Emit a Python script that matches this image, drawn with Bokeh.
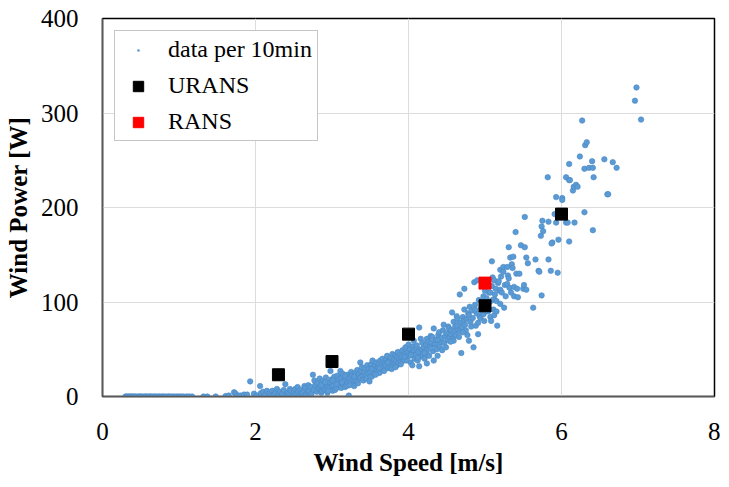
from bokeh.plotting import figure
from bokeh.models import Range1d, FixedTicker, Legend, LegendItem, ColumnDataSource
from bokeh.embed import file_html
from bokeh.resources import INLINE

# ---- measured data (wind speed [m/s], wind power [W]) ----
calm_speed = [0.30, 0.32, 0.34, 0.36, 0.38, 0.40, 0.42, 0.44, 0.47, 0.49,
              0.51, 0.54, 0.56, 0.58, 0.61, 0.63, 0.65, 0.68, 0.70, 0.73,
              0.75, 0.78, 0.80, 0.83, 0.86, 0.88, 0.91, 0.94, 0.97, 1.00,
              1.03, 1.06, 1.10, 1.13, 1.17, 1.32, 1.37, 1.48]
calm_power = [0, 0, 0, 0, 0, 0, 0, 0, 0, 0,
              0, 0, 0, 0, 0, 0, 0, 0, 0, 0,
              0, 0, 0, 0, 0, 0, 0, 0, 0, 0,
              0, 0, 0, 0, 0, 0, 0, 0]

low_speed = [1.61, 1.65, 1.72, 1.74, 1.76, 1.80, 1.85, 1.89, 1.93, 1.98,
             2.02, 2.06, 2.07, 2.10, 2.13, 2.15, 2.18, 2.20, 2.22, 2.24,
             2.26, 2.28, 2.30, 2.32, 2.34, 2.35, 2.37, 2.39, 2.40, 2.42,
             2.44, 2.45, 2.46, 2.48, 2.50, 2.51, 2.52, 2.54, 2.55, 2.56,
             2.57, 2.59, 2.60, 2.61, 2.63, 2.64, 2.65, 2.66, 2.68, 2.69,
             2.70, 2.72, 2.73, 2.75, 2.76, 2.77, 2.78]
low_power = [0.5, 1, 4.5, 3, 1, 1, 2, 2, 16, 3,
             1, 11, 3.5, 5, 2, 6, 3, 1, 6, 2,
             4, 8, 2, 5, 1, 3, 7, 13, 1, 4,
             3, 8, 6, 2, 4, 1, 8, 3, 10, 5,
             1, 7, 3, 4, 6, 11, 9, 2, 5, 12,
             6, 10, 3, 23, 7, 17, 12]

mid_speed = [2.80, 2.81, 2.82, 2.83, 2.84, 2.85, 2.86, 2.87, 2.88, 2.89,
             2.90, 2.91, 2.92, 2.93, 2.94, 2.95, 2.96, 2.97, 2.98, 2.99,
             3.00, 3.01, 3.02, 3.03, 3.04, 3.05, 3.06, 3.07, 3.08, 3.09,
             3.10, 3.11, 3.12, 3.13, 3.14, 3.15, 3.16, 3.17, 3.18, 3.19,
             3.20, 3.21, 3.22, 3.23, 3.24, 3.25, 3.26, 3.27, 3.28, 3.29,
             3.30, 3.31, 3.32, 3.33, 3.34, 3.35, 3.36, 3.37, 3.37, 3.38,
             3.39, 3.40, 3.41, 3.42, 3.43, 3.44, 3.45, 3.46, 3.47, 3.48,
             3.49, 2.86, 2.91, 2.95, 3.01, 3.06, 3.13, 3.17, 3.23, 3.29]
mid_power = [5, 14, 8, 9, 19, 11, 4, 6, 16, 8,
             13, 7, 20, 10, 4, 12, 9, 15, 27, 18,
             11, 6, 12, 21, 7, 16, 9, 22, 14, 12,
             19, 27, 9, 20, 24, 13, 17, 10, 21, 11,
             23, 15, 1, 19, 15, 26, 22, 13, 18, 11,
             25, 17, 21, 28, 14, 24, 19, 20, 36, 27,
             31, 22, 17, 26, 30, 22, 19, 33, 25, 29,
             16, 12, 15, 6, 17, 13, 15, 22, 12, 21]

s35_speed = [3.50, 3.51, 3.52, 3.53, 3.54, 3.55, 3.56, 3.57, 3.58, 3.59,
             3.60, 3.61, 3.62, 3.63, 3.64, 3.65, 3.66, 3.67, 3.68, 3.69,
             3.70, 3.71, 3.72, 3.73, 3.74, 3.75, 3.76, 3.77, 3.78, 3.79,
             3.80, 3.81, 3.82, 3.83, 3.84, 3.85, 3.85, 3.86, 3.87, 3.88,
             3.89, 3.90, 3.91, 3.92, 3.93, 3.94, 3.95, 3.96, 3.97, 3.98,
             3.99, 3.52, 3.57, 3.62, 3.68, 3.73, 3.78, 3.83, 3.90, 3.95]
s35_power = [26, 34, 21, 38, 30, 24, 33, 28, 36, 28,
             31, 35, 25, 38, 30, 33, 40, 28, 31, 36,
             33, 39, 43, 30, 37, 34, 31, 41, 36, 45,
             33, 39, 35, 44, 38, 42, 33, 47, 36, 40,
             44, 37, 42, 49, 39, 38, 45, 52, 41, 38,
             47, 29, 23, 30, 27, 36, 29, 31, 34, 42]

s40_speed = [4.00, 4.01, 4.02, 4.03, 4.04, 4.05, 4.06, 4.07, 4.07, 4.08,
             4.09, 4.10, 4.11, 4.12, 4.13, 4.14, 4.14, 4.15, 4.16, 4.17,
             4.18, 4.19, 4.20, 4.21, 4.22, 4.23, 4.24, 4.24, 4.24, 4.25,
             4.26, 4.27, 4.28, 4.29, 4.30, 4.31, 4.32, 4.33, 4.33, 4.34,
             4.35, 4.36, 4.37, 4.38, 4.39, 4.40, 4.41, 4.42, 4.43, 4.44,
             4.45, 4.46, 4.47, 4.48, 4.49, 4.03, 4.12, 4.21, 4.29, 4.38]
s40_power = [55, 43, 50, 36, 46, 33, 53, 59, 49, 40,
             44, 51, 54, 38, 47, 73, 32, 42, 61, 50,
             57, 45, 52, 40, 48, 55, 61, 45, 35, 50,
             58, 43, 53, 64, 57, 63, 48, 72, 38, 55,
             56, 60, 50, 43, 65, 68, 53, 58, 62, 49,
             70, 76, 57, 64, 52, 44, 41, 46, 51, 60]

s45_speed = [4.50, 4.51, 4.52, 4.53, 4.54, 4.55, 4.56, 4.57, 4.58, 4.59,
             4.59, 4.60, 4.61, 4.62, 4.63, 4.64, 4.65, 4.66, 4.67, 4.67,
             4.68, 4.69, 4.70, 4.71, 4.72, 4.73, 4.73, 4.74, 4.75, 4.76,
             4.77, 4.78, 4.79, 4.79, 4.80, 4.81, 4.82, 4.83, 4.84, 4.85,
             4.86, 4.87, 4.88, 4.89, 4.90, 4.91, 4.91, 4.92, 4.93, 4.94,
             4.95, 4.96, 4.97, 4.98, 4.98, 4.99, 4.55, 4.63, 4.71, 4.87]
s45_power = [67, 60, 74, 72, 63, 66, 70, 89, 61, 79,
             59, 68, 74, 65, 85, 82, 71, 63, 78, 108,
             69, 46, 73, 84, 80, 114, 92, 76, 70, 82,
             65, 88, 86, 59, 95, 79, 74, 91, 83, 52,
             121, 97, 75, 88, 123, 78, 66, 102, 85, 83,
             93, 100, 89, 87, 106, 80, 58, 75, 68, 92]

s50_speed = [5.00, 5.01, 5.02, 5.03, 5.04, 5.05, 5.06, 5.07, 5.07, 5.08,
             5.09, 5.09, 5.10, 5.10, 5.11, 5.12, 5.12, 5.12, 5.13, 5.14,
             5.15, 5.15, 5.16, 5.17, 5.18, 5.19, 5.20, 5.20, 5.20, 5.21,
             5.22, 5.24, 5.24, 5.25, 5.26, 5.27, 5.29, 5.29, 5.30, 5.31,
             5.31, 5.32, 5.33, 5.34, 5.35, 5.36, 5.37, 5.38, 5.38, 5.40,
             5.41, 5.42, 5.43, 5.45, 5.47, 5.50, 5.51, 5.52, 5.52, 5.54,
             5.54, 5.56, 5.63]
s50_power = [112, 90, 104, 95, 90, 110, 100, 84, 110, 80,
             143, 117, 102, 126, 92, 86, 123, 103, 108, 114,
             101, 90, 75, 120, 122, 112, 98, 134, 113, 127,
             110, 132, 137, 94, 118, 106, 119, 137, 128, 125,
             158, 115, 147, 110, 140, 136, 148, 116, 106, 174,
             130, 114, 105, 130, 160, 114, 118, 158, 190, 147,
             113, 141, 94]

high_speed = [5.66, 5.70, 5.71, 5.73, 5.74, 5.74, 5.75, 5.76, 5.82, 5.83,
              5.83, 5.86, 5.88, 5.91, 5.93, 5.93, 5.95, 5.96, 6.01, 6.01,
              6.06, 6.06, 6.08, 6.10, 6.10, 6.11, 6.15, 6.16, 6.17, 6.19,
              6.21, 6.24, 6.27, 6.30, 6.30, 6.31, 6.33, 6.36, 6.40, 6.41,
              6.41, 6.42, 6.56, 6.60, 6.61, 6.67, 6.72, 6.96, 6.98, 7.04,
              6.10, 5.87]
high_power = [145, 133, 132, 170, 180, 107, 186, 175, 232, 185,
              145, 133, 163, 193, 184, 211, 131, 166, 210, 208,
              232, 184, 184, 164, 229, 229, 218, 222, 184, 224,
              222, 254, 292, 241, 195, 266, 269, 242, 249, 242,
              176, 232, 251, 214, 214, 248, 242, 313, 327, 293,
              246, 162]

urans_speed = [2.3, 3.0, 4.0, 5.0, 6.0]
urans_power = [23, 37, 66, 96, 193]
rans_speed = [5.0]
rans_power = [120]

x_ticks = [0, 2, 4, 6, 8]
y_ticks = [0, 100, 200, 300, 400]

speed_groups = [calm_speed, low_speed, mid_speed, s35_speed, s40_speed, s45_speed, s50_speed, high_speed]
power_groups = [calm_power, low_power, mid_power, s35_power, s40_power, s45_power, s50_power, high_power]
all_speed, all_power = [], []
for s, w in zip(speed_groups, power_groups):
    all_speed += s
    all_power += w

FONT = "Liberation Serif"
BLUE = "#5B9BD5"

p = figure(width=720, height=480, x_range=Range1d(0, 8), y_range=Range1d(0, 400),
           output_backend="svg", toolbar_location=None,
           min_border_left=102, min_border_right=6, min_border_top=18, min_border_bottom=84)
p.background_fill_color = "white"
p.border_fill_color = "white"
p.outline_line_color = "black"
p.outline_line_width = 1.5

for g in (p.xgrid, p.ygrid):
    g.grid_line_color = "#dcdcdc"
    g.grid_line_width = 1

p.xaxis.ticker = FixedTicker(ticks=x_ticks)
p.yaxis.ticker = FixedTicker(ticks=y_ticks)
for ax in (p.xaxis, p.yaxis):
    ax.major_tick_line_color = None
    ax.minor_tick_line_color = None
    ax.axis_line_color = "#595959"
    ax.axis_line_width = 1.5
    ax.major_label_text_font = FONT
    ax.major_label_text_font_size = "25px"
    ax.major_label_text_color = "black"
    ax.axis_label_text_font = FONT
    ax.axis_label_text_font_size = "25px"
    ax.axis_label_text_font_style = "bold"
    ax.axis_label_text_color = "black"
p.xaxis.axis_label = "Wind Speed [m/s]"
p.yaxis.axis_label = "Wind Power [W]"
p.xaxis.major_label_standoff = 20
p.yaxis.major_label_standoff = 18
p.xaxis.axis_label_standoff = 6
p.yaxis.axis_label_standoff = 6

src = ColumnDataSource(dict(x=all_speed, y=all_power))
data_r = p.scatter("x", "y", source=src, marker="circle", size=5.5,
                   fill_color=BLUE, line_color="#4A88C4", line_width=0.6)
urans_r = p.scatter(urans_speed, urans_power, marker="square", size=12,
                    fill_color="black", line_color="black")
rans_r = p.scatter(rans_speed, rans_power, marker="square", size=12,
                   fill_color="#FF0000", line_color="#FF0000")

# legend-only proxy (hidden on the plot) drawing a small dot like the reference legend
dot_leg = p.scatter("x", "y", source=src, marker="dot", size=5.5,
                    line_color=BLUE, fill_color=BLUE)
dot_leg.visible = False

legend = Legend(items=[
    LegendItem(label="data per 10min", renderers=[dot_leg]),
    LegendItem(label="URANS", renderers=[urans_r]),
    LegendItem(label="RANS", renderers=[rans_r]),
], location="top_left")
legend.label_text_font = FONT
legend.label_text_font_size = "24px"
legend.label_text_color = "black"
legend.glyph_width = 36
legend.glyph_height = 26
legend.label_height = 26
legend.spacing = 9
legend.padding = 5
legend.margin = 12
legend.label_standoff = 12
legend.border_line_color = "#8c8c8c"
legend.border_line_width = 1.5
legend.background_fill_alpha = 1
p.add_layout(legend)

open("out.html", "w").write(file_html(p, INLINE))
